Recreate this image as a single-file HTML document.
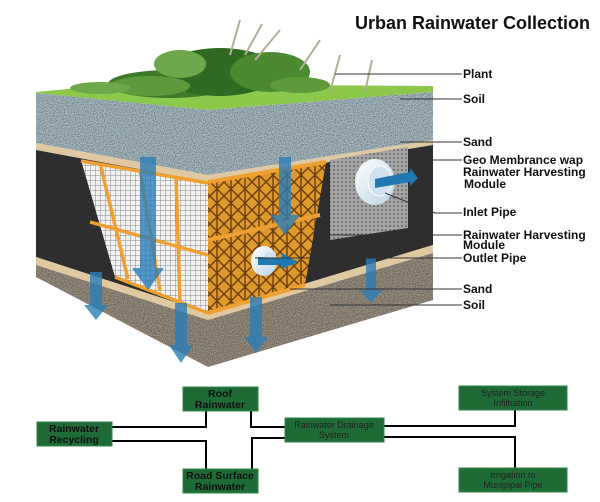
<!DOCTYPE html>
<html><head><meta charset="utf-8"><style>
body{margin:0;background:#fff;}
svg{display:block;font-family:"Liberation Sans",Arial,sans-serif;}
.lb{font-size:12px;font-weight:bold;fill:#111;}
</style></head><body>
<svg width="600" height="502" viewBox="0 0 600 502" xmlns="http://www.w3.org/2000/svg">
<defs>
<filter id="grav" x="0" y="0" width="100%" height="100%">
<feTurbulence type="fractalNoise" baseFrequency="0.9" numOctaves="2" seed="3"/>
<feColorMatrix values="0 0 0 0 0  0 0 0 0 0  0 0 0 0 0  0 0 0 -2.2 1.4"/>
<feComposite in2="SourceGraphic" operator="in"/>
</filter>
<pattern id="wgrid" width="5" height="5" patternUnits="userSpaceOnUse"><rect width="5" height="5" fill="#f2f2f2"/><path d="M0 0H5M0 0V5" stroke="#888" stroke-width="1"/></pattern>
<pattern id="ogrid" width="14" height="14" patternUnits="userSpaceOnUse"><rect width="14" height="14" fill="#e09a2c"/><path d="M0 0L14 14M14 0L0 14M7 0V14" stroke="#6b3d10" stroke-width="1.4"/></pattern>
<pattern id="ggrid" width="4" height="4" patternUnits="userSpaceOnUse"><rect width="4" height="4" fill="#a5a5a5"/><circle cx="2" cy="2" r="1" fill="#666"/></pattern>
<linearGradient id="pipe" x1="0" y1="0" x2="1" y2="1"><stop offset="0" stop-color="#fff"/><stop offset="1" stop-color="#b8d4e4"/></linearGradient>
</defs>

<!-- top green face -->
<polygon points="36,92 120,84 433,86 433,92 208,110 36,93" fill="#8cc84a"/>
<!-- plants -->
<ellipse cx="170" cy="84" rx="62" ry="14" fill="#3f7a2a"/>
<ellipse cx="220" cy="72" rx="58" ry="24" fill="#2f6a22"/>
<ellipse cx="150" cy="86" rx="40" ry="10" fill="#5e9a3c"/>
<ellipse cx="270" cy="72" rx="40" ry="20" fill="#4b8a30"/>
<ellipse cx="180" cy="64" rx="26" ry="14" fill="#6ea84a"/>
<ellipse cx="300" cy="85" rx="30" ry="8" fill="#5e9a3c"/>
<path d="M230 55 L240 20 M245 55 L262 24 M255 60 L280 30 M330 92 L340 55 M365 92 L372 60 M300 70 L320 40" stroke="#b0b098" stroke-width="2" fill="none"/>
<ellipse cx="100" cy="88" rx="30" ry="6" fill="#6ea84a"/>

<!-- LEFT FACE -->
<polygon points="36,93 208,110 208,175 36,143" fill="#a8bcc4"/>
<polygon points="36,93 208,110 208,175 36,143" fill="#4a5a60" filter="url(#grav)" opacity="0.4"/>
<polygon points="36,143 208,175 208,182 36,150" fill="#e0c8a0"/>
<polygon points="36,150 208,182 208,313 36,257" fill="#2e2e2e"/>
<polygon points="36,257 208,313 208,320 36,265" fill="#e0c8a0"/>
<polygon points="36,265 208,320 208,367 36,277" fill="#9a8f80"/>
<polygon points="36,265 208,320 208,367 36,277" fill="#3a332a" filter="url(#grav)" opacity="0.4"/>
<!-- white module -->
<polygon points="81,160 208,182 208,313 115,277" fill="url(#wgrid)"/>
<path d="M100,163 L128,279 M140,170 L160,291 M176,176 L180,303 M90,222 L208,255 M81,161 L208,183 M115,277 L208,313" stroke="#f0a030" stroke-width="3.5" fill="none"/>

<!-- RIGHT FACE -->
<polygon points="208,110 433,92 433,140 208,175" fill="#a8bcc4"/>
<polygon points="208,110 433,92 433,140 208,175" fill="#4a5a60" filter="url(#grav)" opacity="0.4"/>
<polygon points="208,175 433,140 433,145 208,182" fill="#e0c8a0"/>
<polygon points="208,182 433,145 433,245 208,313" fill="#2e2e2e"/>
<polygon points="208,313 433,245 433,253 208,320" fill="#e0c8a0"/>
<polygon points="208,320 433,253 433,300 208,367" fill="#9a8f80"/>
<polygon points="208,320 433,253 433,300 208,367" fill="#3a332a" filter="url(#grav)" opacity="0.4"/>
<!-- orange module -->
<polygon points="208,182 326,162 305,285 208,313" fill="url(#ogrid)"/>
<path d="M208,240 L320,215 M208,182 L326,162 M208,313 L305,285" stroke="#f0a030" stroke-width="4" fill="none"/>
<!-- grey panel -->
<polygon points="330,160 408,147 408,228 330,240" fill="url(#ggrid)"/>
<!-- inlet pipe -->
<ellipse cx="375" cy="182" rx="20" ry="23" fill="url(#pipe)"/>
<ellipse cx="380" cy="181" rx="12" ry="15" fill="#cfe3ee" stroke="#fff"/>
<polygon points="375,179 410,172 410,168 418,178 410,186 410,182 375,188" fill="#1f78b0"/>
<!-- outlet pipe -->
<ellipse cx="264" cy="261" rx="13" ry="15" fill="url(#pipe)"/>
<ellipse cx="270" cy="261" rx="7" ry="9" fill="#cfe3ee"/>
<polygon points="258,257 282,258 282,253 298,262 282,269 282,265 258,265" fill="#1f78b0"/>

<!-- blue arrows -->
<g fill="#2a7db8" opacity="0.8">
<polygon points="140,157 156,157 156,268 164,268 148,290 132,268 140,268"/>
<polygon points="279,157 291,157 291,215 300,215 285,235 270,215 279,215"/>
<polygon points="366,258 376,258 376,290 382,290 371,303 360,290 366,290"/>
<polygon points="90,272 102,272 102,305 108,305 96,320 84,305 90,305"/>
<polygon points="175,303 187,303 187,345 193,345 181,363 169,345 175,345"/>
<polygon points="250,297 262,297 262,337 268,337 256,353 244,337 250,337"/>
</g>

<!-- title -->
<text x="355" y="29" font-size="18" font-weight="bold" fill="#111">Urban Rainwater Collection</text>

<!-- leader lines -->
<g stroke="#333" stroke-width="1" fill="none">
<path d="M335,74 H462"/><path d="M400,99 H462"/><path d="M400,142 H462"/><path d="M420,160 H462"/>
<path d="M385,193 L435,213 H462"/><path d="M330,235 H462"/><path d="M255,258 H462"/>
<path d="M290,289 H462"/><path d="M330,305 H462"/>
</g>
<text class="lb" x="463" y="78">Plant</text>
<text class="lb" x="463" y="103">Soil</text>
<text class="lb" x="463" y="146">Sand</text>
<text class="lb" x="463" y="164">Geo Membrance wap</text>
<text class="lb" x="463" y="176">Rainwater Harvesting</text>
<text class="lb" x="464" y="188">Module</text>
<text class="lb" x="463" y="216">Inlet Pipe</text>
<text class="lb" x="463" y="239">Rainwater Harvesting</text>
<text class="lb" x="463" y="249">Module</text>
<text class="lb" x="463" y="262">Outlet Pipe</text>
<text class="lb" x="463" y="293">Sand</text>
<text class="lb" x="463" y="309">Soil</text>

<!-- flowchart lines -->
<g stroke="#000" stroke-width="2" fill="none">
<path d="M112,427 H206 V411"/><path d="M112,441 H206 V469"/>
<path d="M251,411 V427 H285"/><path d="M252,469 V438 H285"/>
<path d="M384,426 H515 V410"/><path d="M384,437 H515 V468"/>
</g>
<g fill="#1f6b35" stroke="#2d8a48" stroke-width="1">
<rect x="183" y="387" width="75" height="24"/>
<rect x="37" y="422" width="75" height="24"/>
<rect x="183" y="469" width="75" height="24"/>
<rect x="285" y="418" width="99" height="24"/>
<rect x="459" y="386" width="108" height="24"/>
<rect x="459" y="468" width="108" height="24"/>
</g>
<g font-size="10.5" font-weight="bold" fill="#111" text-anchor="middle">
<text x="220" y="397">Roof</text><text x="220" y="408">Rainwater</text>
<text x="74" y="432">Rainwater</text><text x="74" y="443">Recycling</text>
<text x="220" y="479">Road Surface</text><text x="220" y="490">Rainwater</text>
</g>
<g font-size="9" fill="#222" text-anchor="middle">
<text x="334" y="428">Rainwater Drainage</text><text x="334" y="438">System</text>
<text x="513" y="396">System Storage</text><text x="513" y="406">Infiltration</text>
<text x="513" y="478">Irrigation to</text><text x="513" y="488">Munipipal Pipe</text>
</g>
</svg>
</body></html>
